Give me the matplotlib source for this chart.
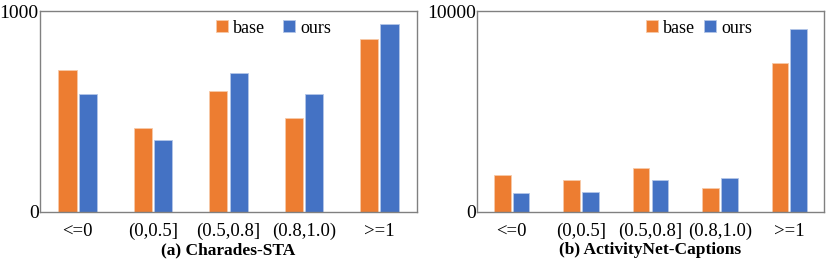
import matplotlib
matplotlib.use('Agg')
import matplotlib.pyplot as plt
import numpy as np

# categories and values
categories = ['<=0', '(0,0.5]', '(0.5,0.8]', '(0.8,1.0)', '>=1']
charades_base = [704, 419, 601, 470, 860]
charades_ours = [585, 359, 693, 585, 937]
anet_base = [1818, 1570, 2198, 1207, 7405]
anet_ours = [926, 1008, 1603, 1669, 9091]

plt.rcParams['font.family'] = ['Liberation Serif', 'DejaVu Serif']

fig = plt.figure(figsize=(8.3, 2.63), dpi=100)
ax1 = fig.add_axes([40/830, 51/263, 377/830, 201/263])
ax2 = fig.add_axes([477/830, 51/263, 347/830, 201/263])

orange = '#ED7D31'
blue = '#4472C4'
w = 0.24
x = np.arange(len(categories))


def draw(ax, base, ours, top, title, leg_x, colsp):
    ax.bar(x - 0.135, base, w, color=orange, edgecolor='#f7c9a8', linewidth=0.6, label='base')
    ax.bar(x + 0.135, ours, w, color=blue, edgecolor='#b4c6e7', linewidth=0.6, label='ours')
    ax.set_xlim(-0.5, len(categories) - 0.5)
    ax.set_ylim(0, top)
    ax.set_yticks([0, top])
    ax.set_yticklabels(['0', str(top)], fontsize=14)
    ax.set_xticks(x)
    ax.set_xticklabels(categories, fontsize=13.5)
    ax.tick_params(length=0)
    ax.tick_params(axis='x', pad=8)
    ax.tick_params(axis='y', pad=1)
    for s in ax.spines.values():
        s.set_color('#808080')
        s.set_linewidth(1.0)
    pos = ax.get_position()
    fig.text((pos.x0 + pos.x1) / 2, 13 / 263, title, ha='center', va='center',
             fontsize=12.5, fontweight='bold')
    ax.legend(loc='center', bbox_to_anchor=(leg_x, 0.915), ncol=2, frameon=False,
              fontsize=13, handlelength=0.65, handleheight=0.65, handletextpad=0.3,
              columnspacing=colsp, borderpad=0)


draw(ax1, charades_base, charades_ours, 1000, '(a) Charades-STA', 0.62, 1.0)
draw(ax2, anet_base, anet_ours, 10000, '(b) ActivityNet-Captions', 0.64, 0.5)

plt.savefig('out.png', dpi=100)
